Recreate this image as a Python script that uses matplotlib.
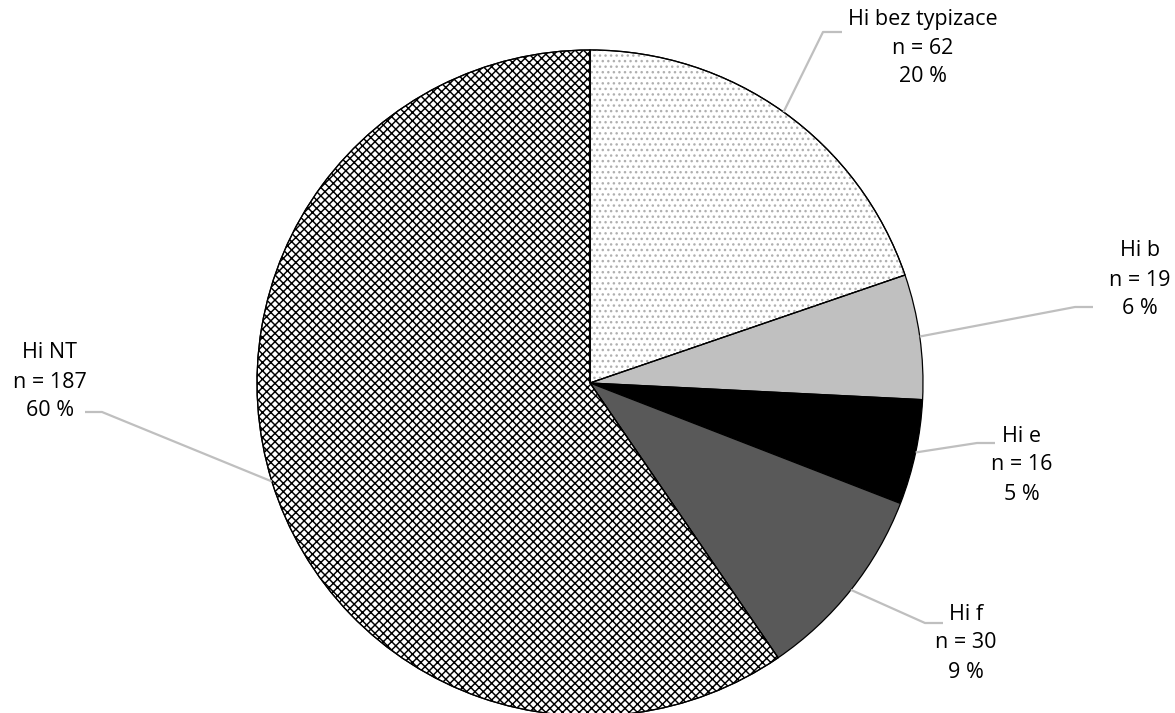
import numpy as np
import matplotlib
matplotlib.use("Agg")
import matplotlib.pyplot as plt
import matplotlib.patches as mpatches

labels = ["Hi bez typizace", "Hi b", "Hi e", "Hi f", "Hi NT"]
counts = [62, 19, 16, 30, 187]
percents = ["20 %", "6 %", "5 %", "9 %", "60 %"]
colors = ["#ffffff", "#c0c0c0", "#000000", "#595959", "#ffffff"]

W, H = 1175, 713
fig = plt.figure(figsize=(W / 100, H / 100), dpi=100)
ax = fig.add_axes([0, 0, 1, 1])
ax.set_aspect("equal")

cx, cy, R = 590, H - 383, 333

wedges, _ = ax.pie(counts, colors=colors, startangle=90, counterclock=False,
                   center=(cx, cy), radius=R, frame=True,
                   wedgeprops=dict(edgecolor="black", linewidth=0.9))
ax.set_xlim(0, W)
ax.set_ylim(0, H)
ax.axis("off")

# textures
hatches = {0: ("...", "#b0b0b0", 1.0), 4: ("xxxx", "#000000", 1.05)}
for i, (h, hc, hl) in hatches.items():
    w = wedges[i]
    plt.rcParams["hatch.linewidth"] = hl
    p = mpatches.Wedge((cx, cy), R, w.theta1, w.theta2, facecolor="none",
                       edgecolor=hc, hatch=h, linewidth=0)
    ax.add_patch(p)
    o = mpatches.Wedge((cx, cy), R, w.theta1, w.theta2, facecolor="none",
                       edgecolor="black", linewidth=0.9)
    ax.add_patch(o)

# label layout: text center (px), leader elbow (px), leader end (px)
layout = [
    ((923, 48), (823, 32), (842, 32)),
    ((1140, 280), (1075, 307), (1093, 307)),
    ((1022, 465), (977, 443), (995, 443)),
    ((966, 643), (925, 623), (943, 623)),
    ((50, 382), (102, 412), (85, 412)),
]

for i, w in enumerate(wedges):
    mid = np.deg2rad((w.theta1 + w.theta2) / 2)
    sx, sy = cx + R * np.cos(mid), cy + R * np.sin(mid)
    (tx, ty), (ex, ey), (fx, fy) = layout[i]
    ax.plot([sx, ex, fx], [sy, H - ey, H - fy], color="#bfbfbf", lw=1.6,
            solid_capstyle="butt", zorder=1)
    ax.text(tx, H - ty, f"{labels[i]}\nn = {counts[i]}\n{percents[i]}",
            ha="center", va="center", fontsize=15.5, family="Open Sans",
            linespacing=1.5, color="black")

fig.savefig("out.png", dpi=100)
